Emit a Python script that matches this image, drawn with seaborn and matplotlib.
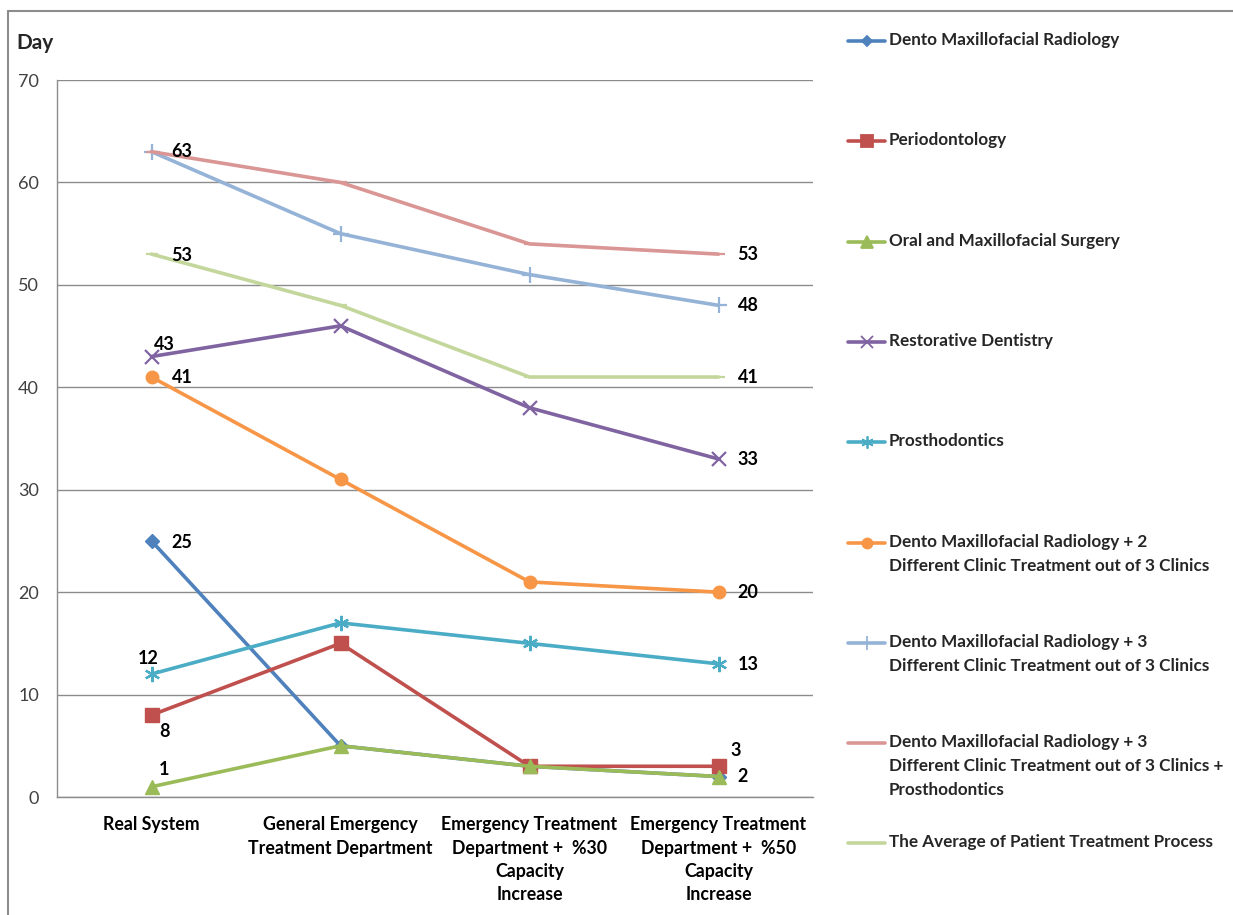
import pandas as pd
import matplotlib
matplotlib.use("Agg")
import matplotlib.pyplot as plt
import seaborn as sns
from matplotlib.lines import Line2D

# Data
categories = [
    "Real System",
    "General Emergency\nTreatment Department",
    "Emergency Treatment\nDepartment +  %30\nCapacity\nIncrease",
    "Emergency Treatment\nDepartment +  %50\nCapacity\nIncrease",
]
series_names = [
    "Dento Maxillofacial Radiology",
    "Periodontology",
    "Oral and Maxillofacial Surgery",
    "Restorative Dentistry",
    "Prosthodontics",
    "Dento Maxillofacial Radiology + 2\nDifferent Clinic Treatment out of 3 Clinics",
    "Dento Maxillofacial Radiology + 3\nDifferent Clinic Treatment out of 3 Clinics",
    "Dento Maxillofacial Radiology + 3\nDifferent Clinic Treatment out of 3 Clinics +\nProsthodontics",
    "The Average of Patient Treatment Process",
]
dmr = [25, 5, 3, 2]
periodontology = [8, 15, 3, 3]
oral_surgery = [1, 5, 3, 2]
restorative = [43, 46, 38, 33]
prosthodontics = [12, 17, 15, 13]
dmr_plus2 = [41, 31, 21, 20]
dmr_plus3 = [63, 55, 51, 48]
dmr_plus3_prost = [63, 60, 54, 53]
average = [53, 48, 41, 41]
values = [dmr, periodontology, oral_surgery, restorative, prosthodontics,
          dmr_plus2, dmr_plus3, dmr_plus3_prost, average]

colors = ["#4F81BD", "#C0504D", "#9BBB59", "#8064A2", "#4BACC6",
          "#F79646", "#95B3D7", "#D99694", "#C3D69B"]
markers = ["D", "s", "^", "x", (6, 2, 0), "o", "+", "_", "_"]
marker_sizes = [7, 10, 10, 10, 11, 9, 12, 8, 8]

# value labels: (series index, point index, dx px, dy px)
labels = [
    (7, 0, 20, 0), (8, 0, 20, -1), (3, 0, 2, 12), (5, 0, 20, 0),
    (0, 0, 20, -2), (4, 0, -14, 16), (1, 0, 8, -16), (2, 0, 7, 17),
    (7, 3, 19, 0), (6, 3, 19, 0), (8, 3, 19, 0), (3, 3, 19, -1),
    (5, 3, 19, 0), (4, 3, 19, -1), (1, 3, 12, 16), (2, 3, 19, 0),
]

rows = []
for name, vals in zip(series_names, values):
    for i, v in enumerate(vals):
        rows.append({"series": name, "x": i, "day": v})
df = pd.DataFrame(rows)

sns.set_style("white")
font = ["Lato", "DejaVu Sans"]
plt.rcParams["font.family"] = font

W, H = 1233, 915
fig = plt.figure(figsize=(W / 100, H / 100), dpi=100)
ax = fig.add_axes([57 / W, (H - 797) / H, 756 / W, 717 / H])

for i, name in enumerate(series_names):
    sub = df[df["series"] == name]
    thin = markers[i] in ["x", "+", "_", (6, 2, 0)]
    sns.lineplot(data=sub, x="x", y="day", ax=ax, color=colors[i],
                 marker=markers[i], markersize=marker_sizes[i],
                 markeredgecolor=colors[i], markeredgewidth=1.6 if thin else 1,
                 linewidth=2.6, zorder=2 + i, legend=False)

for s, p, dx, dy in labels:
    ax.annotate(str(values[s][p]), (p, values[s][p]), xytext=(dx, dy),
                textcoords="offset pixels", ha="left", va="center",
                fontsize=13, fontweight="bold", color="black", zorder=20)

ax.set_xlim(-0.5, 3.5)
ax.set_ylim(0, 70)
ax.set_yticks(range(0, 71, 10))
ax.set_xticks(range(4))
ax.set_xticklabels(categories, fontsize=12.8, fontweight="bold", linespacing=1.45)
ax.tick_params(axis="y", labelsize=13, colors="#404040", length=0, pad=13)
ax.tick_params(axis="x", length=0, pad=14, colors="black")
ax.set_xlabel("")
ax.set_ylabel("")
ax.yaxis.grid(True, color="#8C8C8C", linewidth=1)
ax.xaxis.grid(False)
for side in ["top", "right"]:
    ax.spines[side].set_visible(False)
for side in ["left", "bottom"]:
    ax.spines[side].set_color("#8C8C8C")
    ax.spines[side].set_linewidth(1)

fig.text(16 / W, 1 - 43 / H, "Day", fontsize=15, fontweight="bold", va="center", ha="left")

# legend drawn at the right, entries 100 px apart
lax = fig.add_axes([0, 0, 1, 1], facecolor="none")
lax.set_xlim(0, W)
lax.set_ylim(H, 0)
lax.axis("off")
for i, name in enumerate(series_names):
    y = 41 + 100.3 * i
    lax.add_line(Line2D([848, 885], [y, y], color=colors[i], linewidth=2.6))
    lax.add_line(Line2D([866.5], [y], color=colors[i], marker=markers[i],
                        markersize=marker_sizes[i] * 0.8, markeredgecolor=colors[i],
                        markeredgewidth=1.3, linestyle="none"))
    lax.text(889, y - 9, name, fontsize=12.3, fontweight="bold", va="top", ha="left",
             linespacing=1.62)

# outer frame: top and left edges only
lax.add_line(Line2D([8, W], [11, 11], color="#8C8C8C", linewidth=1.5))
lax.add_line(Line2D([8, 8], [11, H], color="#8C8C8C", linewidth=1.5))

fig.savefig("out.png", dpi=100)
